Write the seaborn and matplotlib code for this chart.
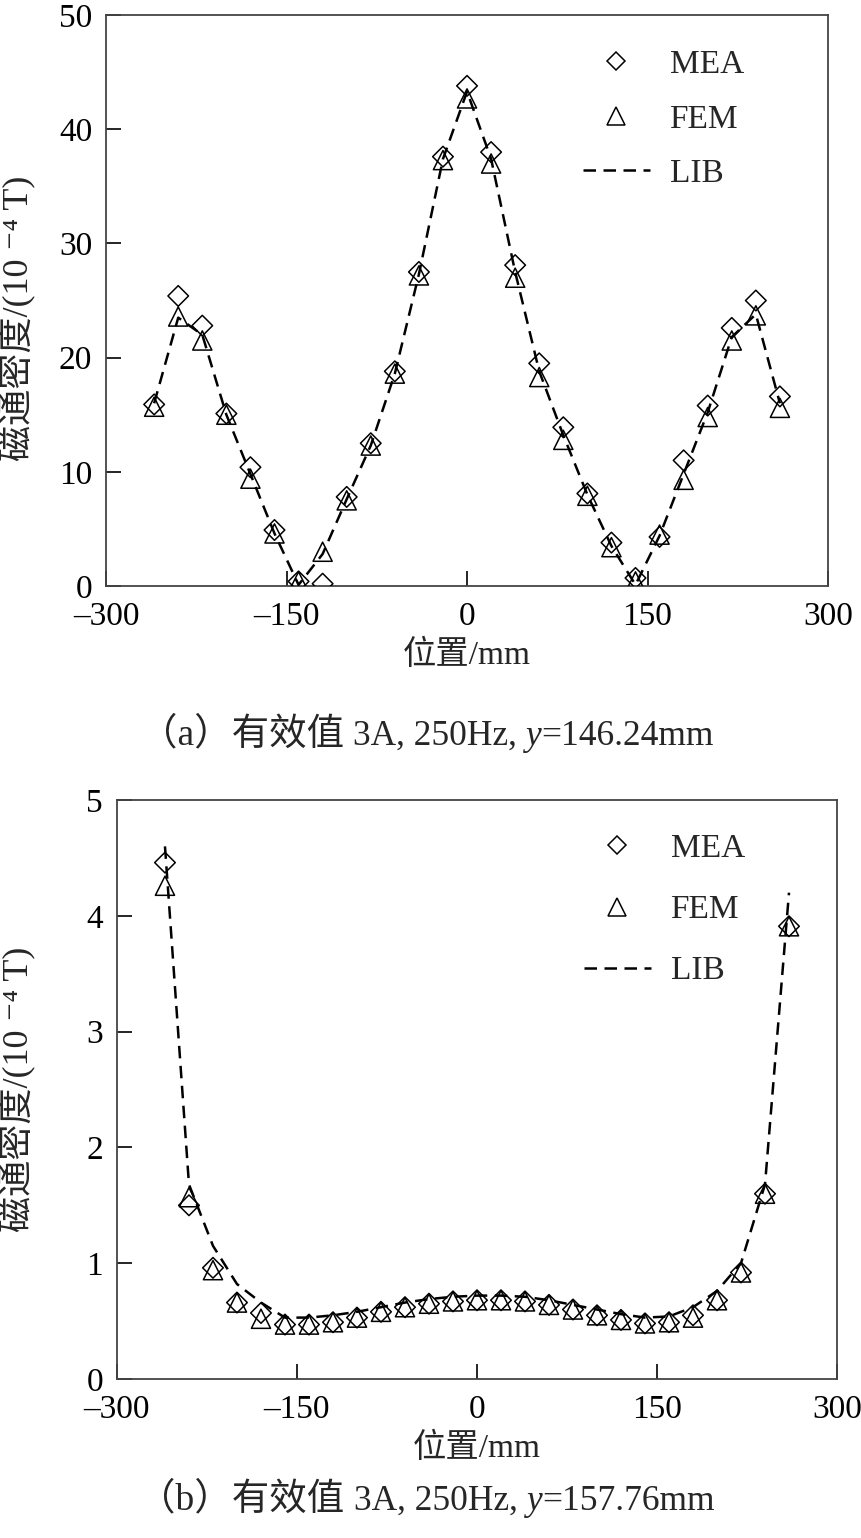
import numpy as np
import pandas as pd
import matplotlib
matplotlib.use('Agg')
import matplotlib.pyplot as plt
import seaborn as sns
from matplotlib.lines import Line2D
from matplotlib.offsetbox import TextArea, HPacker, AnchoredOffsetbox

# position along the line, mm
pos = list(range(-260, 261, 20))

# (a) y=146.24mm, flux density in 1e-4 T
mea_a = [15.9, 25.4, 22.8, 15.1, 10.4, 4.9, 0.4, 0.2, 7.8, 12.5, 18.8, 27.5, 37.6, 43.8,
         38.0, 28.1, 19.5, 13.9, 8.1, 3.8, 0.7, 4.3, 11.0, 15.8, 22.6, 25.0, 16.6]
fem_a = [15.7, 23.6, 21.5, 15.0, 9.4, 4.6, 0.4, 3.0, 7.5, 12.3, 18.6, 27.2, 37.3, 42.7,
         37.0, 27.0, 18.3, 12.8, 7.9, 3.4, 0.4, 4.5, 9.3, 14.8, 21.5, 23.7, 15.6]
lib_a = [16.0, 23.5, 22.0, 15.0, 9.8, 4.6, 0.1, 2.8, 7.6, 12.3, 18.6, 27.3, 37.4, 43.3,
         37.4, 27.5, 18.8, 13.2, 8.0, 3.5, 0.1, 4.4, 9.8, 15.2, 21.8, 23.8, 16.0]

# (b) y=157.76mm
mea_b = [4.46, 1.50, 0.96, 0.66, 0.57, 0.47, 0.47, 0.49, 0.53, 0.58, 0.62, 0.65, 0.67, 0.68,
         0.68, 0.67, 0.64, 0.60, 0.55, 0.51, 0.48, 0.49, 0.55, 0.68, 0.92, 1.60, 3.91]
fem_b = [4.26, 1.57, 0.94, 0.66, 0.52, 0.47, 0.47, 0.49, 0.53, 0.58, 0.62, 0.65, 0.67, 0.68,
         0.68, 0.67, 0.64, 0.60, 0.55, 0.51, 0.48, 0.49, 0.53, 0.68, 0.92, 1.60, 3.91]
lib_b = [4.60, 1.68, 1.15, 0.82, 0.66, 0.53, 0.53, 0.55, 0.58, 0.62, 0.66, 0.69, 0.71, 0.72,
         0.72, 0.71, 0.68, 0.64, 0.60, 0.56, 0.53, 0.54, 0.62, 0.76, 1.00, 1.68, 4.20]

xticks = [-300, -150, 0, 150, 300]
xticklabels = ['\u2013300', '\u2013150', '0', '150', '300']
ylabel = '磁通密度/(10 \u207b\u2074 T)'
xlabel = '位置/mm'
cap_tag = ['（a）有效值 ', '（b）有效值 ']
cap_cond = '3A, 250Hz, '
cap_var = 'y'
cap_tail = ['=146.24mm', '=157.76mm']

sns.set_style('ticks')
plt.rcParams['font.family'] = ['Liberation Serif', 'Noto Sans CJK SC', 'DejaVu Sans']
plt.rcParams['axes.unicode_minus'] = False

fig = plt.figure(figsize=(8.62, 15.38), dpi=100)
ax1 = fig.add_axes([0.123, 0.619, 0.8376, 0.3712])
ax2 = fig.add_axes([0.1357, 0.1034, 0.8353, 0.3764])

fs = 24
dash = (0, (5, 3))

def draw(ax, mea, fem, lib, ylim, yticks, leg_anchor, lspace, ylab_xy):
    sns.scatterplot(x=pos, y=mea, marker='D', s=110, ax=ax, zorder=3)
    sns.scatterplot(x=pos, y=fem, marker='^', s=190, ax=ax, zorder=3)
    for c in ax.collections:
        c.set_facecolor('none')
        c.set_edgecolor('black')
        c.set_linewidth(1.1)
    sns.lineplot(x=pos, y=lib, ax=ax, color='black', lw=1.8, linestyle=dash, zorder=4)
    ax.set_xlim(-300, 300)
    ax.set_ylim(*ylim)
    ax.set_xticks(xticks)
    ax.set_xticklabels(xticklabels)
    ax.set_yticks(yticks)
    ax.tick_params(direction='in', length=11, width=1.2, labelsize=fs,
                   colors='black', top=False, right=False)
    ax.tick_params(axis='x', pad=11.5)
    ax.tick_params(axis='y', pad=10)
    for sp in ax.spines.values():
        sp.set_color('#444444')
        sp.set_linewidth(1.3)
    ax.set_xlabel(xlabel, fontsize=fs, labelpad=5)
    ax.set_ylabel(ylabel, fontsize=26)
    ax.yaxis.set_label_coords(*ylab_xy)
    handles = [Line2D([], [], marker='D', ls='none', mfc='none', mec='black', ms=9, mew=1.1),
               Line2D([], [], marker='^', ls='none', mfc='none', mec='black', ms=13, mew=1.1),
               Line2D([], [], color='black', lw=1.8, ls=dash)]
    ax.legend(handles, ['MEA', 'FEM', 'LIB'], loc='upper left', bbox_to_anchor=leg_anchor,
              frameon=False, fontsize=fs, handlelength=2.0, handletextpad=0.6,
              labelspacing=lspace, borderaxespad=0)

draw(ax1, mea_a, fem_a, lib_a, (0, 50), [0, 10, 20, 30, 40, 50], (0.642, 0.963), 0.72,
     (-0.097, 0.468))
draw(ax2, mea_b, fem_b, lib_b, (0, 5), [0, 1, 2, 3, 4, 5], (0.63, 0.965), 0.92,
     (-0.1125, 0.5))

for i, ypix in enumerate([735, 1500]):
    parts = [TextArea(cap_tag[i], textprops=dict(fontsize=27)),
             TextArea(cap_cond, textprops=dict(fontsize=25.5)),
             TextArea(cap_var, textprops=dict(fontsize=25.5, style='italic')),
             TextArea(cap_tail[i], textprops=dict(fontsize=25.5))]
    box = HPacker(children=parts, align='baseline', pad=0, sep=0)
    ab = AnchoredOffsetbox(loc='center', child=box, frameon=False, pad=0, borderpad=0,
                           bbox_to_anchor=(0.495, 1 - ypix / 1538),
                           bbox_transform=fig.transFigure)
    fig.add_artist(ab)

fig.savefig('out.png', dpi=100)
